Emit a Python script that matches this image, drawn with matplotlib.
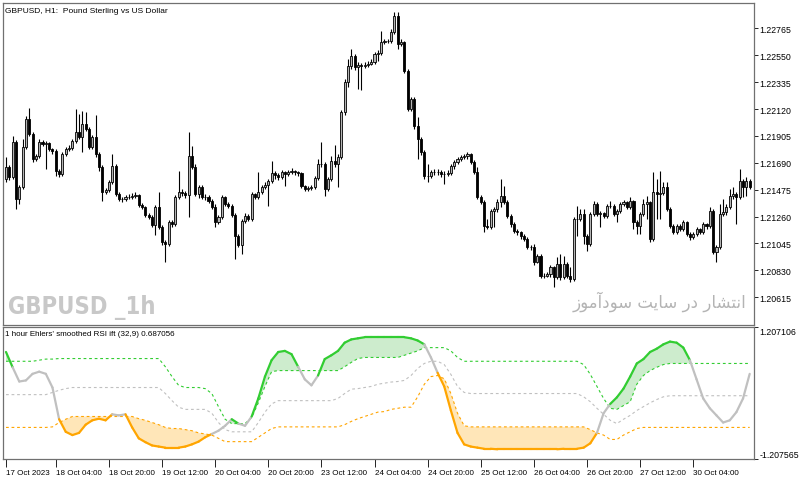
import numpy as np
import matplotlib
matplotlib.use("Agg")
import matplotlib.pyplot as plt
from matplotlib import font_manager
from matplotlib.collections import LineCollection

# GBPUSD H1 candles, 17 Oct 2023 13:00 onwards (open = previous close)
first_open = 1.21560
close = [
    1.21656, 1.21576, 1.21856, 1.21400, 1.21496, 1.21816, 1.22040, 1.21920, 1.21720, 1.21744,
    1.21856, 1.21840, 1.21848, 1.21800, 1.21784, 1.21624, 1.21600, 1.21760, 1.21800, 1.21808,
    1.21864, 1.21936, 1.21896, 1.22000, 1.21960, 1.21816, 1.21896, 1.21760, 1.21656, 1.21456,
    1.21472, 1.21536, 1.21664, 1.21440, 1.21400, 1.21400, 1.21416, 1.21416, 1.21424, 1.21432,
    1.21352, 1.21336, 1.21272, 1.21256, 1.21192, 1.21336, 1.21176, 1.21056, 1.21040, 1.21216,
    1.21200, 1.21416, 1.21456, 1.21448, 1.21432, 1.21744, 1.21656, 1.21440, 1.21496, 1.21416,
    1.21416, 1.21384, 1.21336, 1.21216, 1.21256, 1.21416, 1.21360, 1.21344, 1.21272, 1.21104,
    1.21032, 1.21224, 1.21264, 1.21240, 1.21440, 1.21416, 1.21456, 1.21496, 1.21512, 1.21544,
    1.21608, 1.21592, 1.21576, 1.21616, 1.21600, 1.21616, 1.21624, 1.21616, 1.21608, 1.21504,
    1.21480, 1.21488, 1.21496, 1.21568, 1.21680, 1.21680, 1.21480, 1.21560, 1.21704, 1.21680,
    1.21736, 1.22096, 1.22336, 1.22464, 1.22544, 1.22456, 1.22472, 1.22464, 1.22472, 1.22480,
    1.22496, 1.22560, 1.22568, 1.22656, 1.22664, 1.22664, 1.22736, 1.22864, 1.22640, 1.22656,
    1.22424, 1.22120, 1.22200, 1.21984, 1.21880, 1.21776, 1.21584, 1.21584, 1.21616, 1.21616,
    1.21616, 1.21600, 1.21600, 1.21608, 1.21664, 1.21696, 1.21720, 1.21736, 1.21744, 1.21760,
    1.21696, 1.21616, 1.21416, 1.21376, 1.21184, 1.21176, 1.21304, 1.21320, 1.21376, 1.21424,
    1.21376, 1.21264, 1.21200, 1.21144, 1.21136, 1.21104, 1.21080, 1.21016, 1.21016, 1.20896,
    1.20944, 1.20784, 1.20784, 1.20800, 1.20856, 1.20776, 1.20880, 1.20776, 1.20880, 1.20784,
    1.20760, 1.21240, 1.21240, 1.21280, 1.21104, 1.21040, 1.21280, 1.21360, 1.21280, 1.21288,
    1.21264, 1.21344, 1.21344, 1.21280, 1.21304, 1.21360, 1.21376, 1.21336, 1.21384, 1.21216,
    1.21184, 1.21280, 1.21360, 1.21376, 1.21080, 1.21456, 1.21440, 1.21448, 1.21496, 1.21320,
    1.21184, 1.21136, 1.21184, 1.21160, 1.21216, 1.21120, 1.21096, 1.21120, 1.21160, 1.21136,
    1.21200, 1.21184, 1.21304, 1.20976, 1.21016, 1.21280, 1.21296, 1.21336, 1.21424, 1.21440,
    1.21416, 1.21544, 1.21496, 1.21544, 1.21496,
]
high = [
    1.21736, 1.21672, 1.21904, 1.21872, 1.21512, 1.21880, 1.22064, 1.22128, 1.21936, 1.21760,
    1.21880, 1.21872, 1.21864, 1.21856, 1.21808, 1.21800, 1.21640, 1.21776, 1.21816, 1.21832,
    1.21880, 1.22120, 1.22080, 1.22104, 1.22096, 1.21976, 1.21912, 1.22072, 1.21776, 1.21672,
    1.21488, 1.21552, 1.21760, 1.21680, 1.21456, 1.21416, 1.21432, 1.21440, 1.21448, 1.21456,
    1.21440, 1.21368, 1.21344, 1.21288, 1.21272, 1.21352, 1.21456, 1.21192, 1.21072, 1.21232,
    1.21232, 1.21432, 1.21624, 1.21480, 1.21464, 1.21936, 1.21824, 1.21680, 1.21512, 1.21512,
    1.21440, 1.21432, 1.21400, 1.21360, 1.21272, 1.21432, 1.21424, 1.21376, 1.21360, 1.21288,
    1.21120, 1.21240, 1.21288, 1.21280, 1.21456, 1.21448, 1.21616, 1.21512, 1.21536, 1.21560,
    1.21704, 1.21624, 1.21608, 1.21632, 1.21624, 1.21632, 1.21648, 1.21632, 1.21624, 1.21616,
    1.21512, 1.21504, 1.21512, 1.21584, 1.21720, 1.21856, 1.21696, 1.21576, 1.21744, 1.21832,
    1.21760, 1.22112, 1.22360, 1.22520, 1.22600, 1.22560, 1.22496, 1.22488, 1.22496, 1.22504,
    1.22520, 1.22576, 1.22592, 1.22744, 1.22680, 1.22680, 1.22760, 1.22896, 1.22896, 1.22680,
    1.22664, 1.22440, 1.22216, 1.22216, 1.22056, 1.21896, 1.21792, 1.21680, 1.21632, 1.21640,
    1.21640, 1.21632, 1.21624, 1.21632, 1.21680, 1.21712, 1.21736, 1.21752, 1.21760, 1.21776,
    1.21768, 1.21712, 1.21656, 1.21432, 1.21392, 1.21240, 1.21320, 1.21336, 1.21400, 1.21560,
    1.21504, 1.21392, 1.21280, 1.21216, 1.21160, 1.21144, 1.21120, 1.21096, 1.21032, 1.21040,
    1.20960, 1.20960, 1.20808, 1.20816, 1.20872, 1.20864, 1.20936, 1.20960, 1.20944, 1.20896,
    1.20856, 1.21256, 1.21344, 1.21320, 1.21320, 1.21120, 1.21296, 1.21384, 1.21376, 1.21304,
    1.21296, 1.21360, 1.21384, 1.21360, 1.21320, 1.21376, 1.21392, 1.21384, 1.21416, 1.21392,
    1.21232, 1.21296, 1.21400, 1.21424, 1.21384, 1.21616, 1.21560, 1.21624, 1.21536, 1.21536,
    1.21336, 1.21200, 1.21200, 1.21200, 1.21232, 1.21224, 1.21136, 1.21136, 1.21176, 1.21168,
    1.21216, 1.21208, 1.21336, 1.21320, 1.21032, 1.21360, 1.21400, 1.21360, 1.21480, 1.21496,
    1.21456, 1.21640, 1.21560, 1.21576, 1.21560,
]
low = [
    1.21536, 1.21552, 1.21560, 1.21320, 1.21360, 1.21480, 1.21800, 1.21904, 1.21696, 1.21704,
    1.21728, 1.21824, 1.21640, 1.21784, 1.21760, 1.21584, 1.21576, 1.21584, 1.21744, 1.21784,
    1.21792, 1.21848, 1.21880, 1.21776, 1.21944, 1.21800, 1.21800, 1.21736, 1.21624, 1.21384,
    1.21440, 1.21456, 1.21520, 1.21424, 1.21384, 1.21376, 1.21384, 1.21400, 1.21400, 1.21408,
    1.21336, 1.21320, 1.21256, 1.21240, 1.21176, 1.21112, 1.21160, 1.21032, 1.20896, 1.21024,
    1.21176, 1.21184, 1.21400, 1.21424, 1.21408, 1.21256, 1.21640, 1.21424, 1.21408, 1.21400,
    1.21392, 1.21368, 1.21320, 1.21176, 1.21200, 1.21240, 1.21344, 1.21328, 1.21256, 1.20920,
    1.21016, 1.20960, 1.21208, 1.21224, 1.21224, 1.21400, 1.21400, 1.21440, 1.21480, 1.21344,
    1.21528, 1.21560, 1.21552, 1.21560, 1.21504, 1.21584, 1.21600, 1.21592, 1.21584, 1.21488,
    1.21464, 1.21464, 1.21472, 1.21480, 1.21552, 1.21656, 1.21424, 1.21464, 1.21544, 1.21656,
    1.21496, 1.21720, 1.22072, 1.22296, 1.22440, 1.22432, 1.22280, 1.22272, 1.22448, 1.22456,
    1.22472, 1.22480, 1.22504, 1.22552, 1.22640, 1.22648, 1.22648, 1.22720, 1.22600, 1.22624,
    1.22408, 1.22104, 1.22104, 1.21960, 1.21720, 1.21752, 1.21560, 1.21536, 1.21568, 1.21592,
    1.21592, 1.21576, 1.21520, 1.21584, 1.21592, 1.21640, 1.21680, 1.21704, 1.21720, 1.21720,
    1.21680, 1.21600, 1.21400, 1.21360, 1.21136, 1.21160, 1.21160, 1.21176, 1.21296, 1.21336,
    1.21360, 1.21248, 1.21176, 1.21128, 1.21112, 1.21080, 1.21064, 1.21000, 1.20992, 1.20872,
    1.20888, 1.20768, 1.20768, 1.20776, 1.20776, 1.20696, 1.20760, 1.20752, 1.20760, 1.20768,
    1.20736, 1.20744, 1.21104, 1.21224, 1.21040, 1.20984, 1.21024, 1.21264, 1.21264, 1.21176,
    1.21248, 1.21248, 1.21328, 1.21264, 1.21216, 1.21288, 1.21344, 1.21320, 1.21320, 1.21160,
    1.21120, 1.21120, 1.21264, 1.21240, 1.21056, 1.21064, 1.21240, 1.21240, 1.21432, 1.21304,
    1.21168, 1.21120, 1.21120, 1.21144, 1.21144, 1.21104, 1.21072, 1.21080, 1.21104, 1.21120,
    1.21120, 1.21160, 1.21168, 1.20960, 1.20896, 1.21000, 1.21264, 1.21272, 1.21320, 1.21400,
    1.21200, 1.21400, 1.21416, 1.21424, 1.21480,
]

price_ticks = [1.20615, 1.20830, 1.21045, 1.21260, 1.21475, 1.21690,
               1.21905, 1.22120, 1.22335, 1.22550, 1.22765]
time_labels = ["17 Oct 2023", "18 Oct 04:00", "18 Oct 20:00", "19 Oct 12:00",
               "20 Oct 04:00", "20 Oct 20:00", "23 Oct 12:00", "24 Oct 04:00",
               "24 Oct 20:00", "25 Oct 12:00", "26 Oct 04:00", "26 Oct 20:00",
               "27 Oct 12:00", "30 Oct 04:00"]
time_label_bars = [0, 15, 31, 47, 63, 79, 95, 111, 127, 143, 159, 175, 191, 207]

# Ehlers smoothed RSI ift, sampled every 2nd bar, with its three adaptive levels
rsi = [
    0.75, 0.47, 0.21, 0.23, 0.35, 0.39, 0.35, 0.10, -0.48, -0.71,
    -0.77, -0.73, -0.58, -0.50, -0.47, -0.50, -0.39, -0.41, -0.39, -0.63,
    -0.83, -0.90, -0.96, -0.98, -1.00, -1.00, -1.00, -0.98, -0.94, -0.89,
    -0.81, -0.75, -0.69, -0.60, -0.48, -0.56, -0.60, -0.43, -0.10, 0.30,
    0.60, 0.75, 0.77, 0.71, 0.48, 0.25, 0.14, 0.32, 0.62, 0.69,
    0.77, 0.92, 0.98, 1.00, 1.02, 1.02, 1.02, 1.02, 1.02, 1.02,
    1.02, 1.00, 0.96, 0.89, 0.65, 0.37, 0.12, -0.32, -0.73, -0.94,
    -0.98, -1.00, -1.02, -1.02, -1.03, -1.03, -1.03, -1.03, -1.03, -1.03,
    -1.03, -1.03, -1.03, -1.03, -1.02, -1.02, -1.02, -1.00, -0.92, -0.73,
    -0.37, -0.20, -0.08, 0.08, 0.30, 0.54, 0.62, 0.75, 0.81, 0.89,
    0.94, 0.92, 0.83, 0.60, 0.25, -0.10, -0.28, -0.41, -0.54, -0.50,
    -0.35, -0.10, 0.35,
]
level_up = [
    0.58, 0.58, 0.58, 0.58, 0.58, 0.60, 0.62, 0.62, 0.63, 0.63,
    0.63, 0.63, 0.63, 0.63, 0.63, 0.63, 0.63, 0.63, 0.63, 0.63,
    0.63, 0.63, 0.63, 0.63, 0.48, 0.30, 0.14, 0.10, 0.10, 0.10,
    0.08, -0.01, -0.25, -0.48, -0.56, -0.56, -0.56, -0.45, -0.18, 0.12,
    0.39, 0.41, 0.41, 0.41, 0.41, 0.41, 0.41, 0.41, 0.41, 0.41,
    0.41, 0.48, 0.56, 0.63, 0.65, 0.65, 0.65, 0.65, 0.65, 0.65,
    0.69, 0.73, 0.77, 0.83, 0.83, 0.83, 0.83, 0.77, 0.65, 0.58,
    0.58, 0.58, 0.58, 0.58, 0.58, 0.58, 0.58, 0.58, 0.58, 0.58,
    0.58, 0.58, 0.58, 0.58, 0.58, 0.58, 0.58, 0.52, 0.34, 0.12,
    -0.10, -0.28, -0.30, -0.23, -0.16, 0.16, 0.32, 0.41, 0.47, 0.52,
    0.54, 0.54, 0.54, 0.54, 0.54, 0.54, 0.54, 0.54, 0.54, 0.54,
    0.54, 0.54, 0.54,
]
level_mid = [
    -0.03, -0.03, -0.03, -0.03, -0.03, -0.03, -0.03, 0.01, 0.05, 0.08,
    0.10, 0.10, 0.10, 0.10, 0.10, 0.10, 0.10, 0.10, 0.10, 0.10,
    0.10, 0.10, 0.10, 0.10, -0.01, -0.14, -0.26, -0.30, -0.30, -0.30,
    -0.30, -0.37, -0.54, -0.67, -0.71, -0.71, -0.71, -0.71, -0.54, -0.35,
    -0.20, -0.14, -0.14, -0.14, -0.14, -0.14, -0.14, -0.14, -0.14, -0.14,
    -0.10, -0.01, 0.07, 0.08, 0.10, 0.12, 0.16, 0.18, 0.20, 0.21,
    0.23, 0.32, 0.45, 0.54, 0.58, 0.58, 0.52, 0.34, 0.12, 0.01,
    -0.01, -0.01, -0.01, -0.01, -0.01, -0.01, -0.01, -0.01, -0.01, -0.01,
    -0.01, -0.01, -0.01, -0.01, -0.01, -0.01, -0.01, -0.07, -0.16, -0.28,
    -0.39, -0.50, -0.56, -0.48, -0.41, -0.32, -0.25, -0.18, -0.12, -0.07,
    -0.05, -0.05, -0.05, -0.05, -0.05, -0.05, -0.05, -0.05, -0.05, -0.05,
    -0.05, -0.05, -0.05,
]
level_dn = [
    -0.63, -0.63, -0.63, -0.63, -0.63, -0.63, -0.63, -0.62, -0.54, -0.48,
    -0.43, -0.43, -0.43, -0.43, -0.43, -0.43, -0.43, -0.43, -0.43, -0.43,
    -0.47, -0.50, -0.54, -0.58, -0.63, -0.65, -0.65, -0.67, -0.69, -0.73,
    -0.75, -0.77, -0.83, -0.89, -0.89, -0.89, -0.89, -0.89, -0.81, -0.73,
    -0.65, -0.62, -0.62, -0.62, -0.62, -0.62, -0.62, -0.62, -0.62, -0.62,
    -0.62, -0.58, -0.52, -0.47, -0.43, -0.39, -0.35, -0.34, -0.30, -0.28,
    -0.26, -0.26, -0.07, 0.16, 0.30, 0.32, 0.26, -0.01, -0.37, -0.60,
    -0.62, -0.62, -0.62, -0.62, -0.62, -0.62, -0.62, -0.62, -0.62, -0.62,
    -0.62, -0.62, -0.62, -0.62, -0.62, -0.62, -0.62, -0.62, -0.67, -0.73,
    -0.77, -0.85, -0.85, -0.77, -0.71, -0.65, -0.63, -0.63, -0.63, -0.63,
    -0.63, -0.63, -0.63, -0.63, -0.63, -0.63, -0.63, -0.63, -0.63, -0.63,
    -0.63, -0.63, -0.63,
]
ind_top, ind_bottom = 1.207106, -1.207565

# pick a narrow bold face for the big symbol watermark if one is installed
font_names = {f.name for f in font_manager.fontManager.ttflist}
condensed = any(f.name == "DejaVu Sans" and f.stretch == "condensed"
                for f in font_manager.fontManager.ttflist)
if "Liberation Sans Narrow" in font_names:
    mark_font = dict(family="Liberation Sans Narrow", fontsize=20)
elif condensed:
    mark_font = dict(family="DejaVu Sans", fontstretch="condensed", fontsize=17)
else:
    mark_font = dict(family="DejaVu Sans", fontsize=13.5)

small = "Liberation Sans"

W, H = 800, 481
fig = plt.figure(figsize=(W / 100, H / 100), dpi=100)
frame = "#707070"
ax = fig.add_axes([3 / W, 1 - 326 / H, 751 / W, 322 / H])
ax2 = fig.add_axes([3 / W, 1 - 460 / H, 751 / W, 132 / H], sharex=ax)

# --- candles
n = len(close)
x = np.arange(n)
c = np.array(close)
o = np.concatenate([[first_open], c[:-1]])
hi = np.maximum(np.array(high), np.maximum(o, c))
lo = np.minimum(np.array(low), np.minimum(o, c))
bull = c >= o
ax.vlines(x, lo, hi, color="black", linewidth=0.8, zorder=2)
body_lo = np.minimum(o, c)
body_h = np.abs(c - o)
ax.bar(x[bull], body_h[bull], bottom=body_lo[bull], width=0.62,
       color="#b4b4b4", edgecolor="black", linewidth=0.6, zorder=3)
ax.bar(x[~bull], body_h[~bull], bottom=body_lo[~bull], width=0.62,
       color="black", edgecolor="black", linewidth=0.6, zorder=3)

ax.set_xlim(-0.9, 225.3)
ax.set_ylim(1.20392, 1.22968)
ax.yaxis.tick_right()
ax.set_yticks(price_ticks)
ax.set_yticklabels([f"{p:.5f}" for p in price_ticks], family=small)
ax.tick_params(axis="y", direction="out", length=3, width=0.6, pad=1,
               labelsize=6.3, colors="black")
ax.tick_params(axis="x", bottom=False, labelbottom=False)

ax.text(0.003, 0.988, "GBPUSD, H1:  Pound Sterling vs US Dollar", transform=ax.transAxes,
        ha="left", va="top", fontsize=6, family=small)
ax.text(0.006, 0.02, "GBPUSD _1h", transform=ax.transAxes, ha="left", va="bottom",
        fontweight="bold", color="#c8c8c8", **mark_font)
# "انتشار در سایت سودآموز" written in shaped presentation forms (visual order)
fa_text = ("\ufeaf\ufeee\ufee3\ufe81\ufea9\ufeee\ufeb3 \ufe96\ufef3\ufe8e\ufeb3 "
           "\ufead\ufea9 \ufead\ufe8e\ufeb8\ufe98\ufee7\ufe8d")
ax.text(0.99, 0.045, fa_text, transform=ax.transAxes, ha="right", va="bottom",
        fontsize=12, family="DejaVu Sans", color="#b4b4b4")

# --- indicator
xi = np.arange(0, n, 2)
r = np.array(rsi)
up = np.array(level_up)
mid = np.array(level_mid)
dn = np.array(level_dn)
green, orange, silver = "#32cd32", "#ffa500", "#c0c0c0"

ax2.fill_between(xi, r, up, where=r >= up, interpolate=True, color="#cdeccd", linewidth=0)
ax2.fill_between(xi, r, dn, where=r <= dn, interpolate=True, color="#ffe6b8", linewidth=0)
dash = (0, (2.5, 2.5))
ax2.plot(xi, up, color=green, linewidth=0.8, linestyle=dash)
ax2.plot(xi, mid, color=silver, linewidth=0.8, linestyle=dash)
ax2.plot(xi, dn, color=orange, linewidth=0.8, linestyle=dash)

rm = (r[:-1] + r[1:]) / 2
seg_col = np.where(rm >= (up[:-1] + up[1:]) / 2, green,
                   np.where(rm <= (dn[:-1] + dn[1:]) / 2, orange, silver))
pts = np.column_stack([xi, r])
segs = np.stack([pts[:-1], pts[1:]], axis=1)
ax2.add_collection(LineCollection(segs, colors=seg_col, linewidths=1.6,
                                  capstyle="round", joinstyle="round", zorder=4))

ax2.set_ylim(ind_bottom, ind_top)
ax2.yaxis.tick_right()
ax2.set_yticks([ind_top, ind_bottom])
ax2.set_yticklabels([f"{ind_top:.6f}", f"{ind_bottom:.6f}"], family=small)
ax2.tick_params(axis="y", direction="out", length=3, width=0.6, pad=1, labelsize=6.3)
lab_top, lab_bot = ax2.get_yticklabels()
lab_top.set_verticalalignment("top")
lab_bot.set_verticalalignment("bottom")
ax2.set_xticks(time_label_bars)
ax2.set_xticklabels(time_labels, ha="left", family=small)
ax2.tick_params(axis="x", direction="out", length=6, width=0.6, pad=1, labelsize=5.8)
ax2.text(0.003, 0.975, "1 hour Ehlers' smoothed RSI ift (32,9) 0.687056",
         transform=ax2.transAxes, ha="left", va="top", fontsize=5.8, family=small)

for a in (ax, ax2):
    for s in a.spines.values():
        s.set_color(frame)
        s.set_linewidth(0.9)

fig.savefig("out.png", dpi=100, facecolor="white")
